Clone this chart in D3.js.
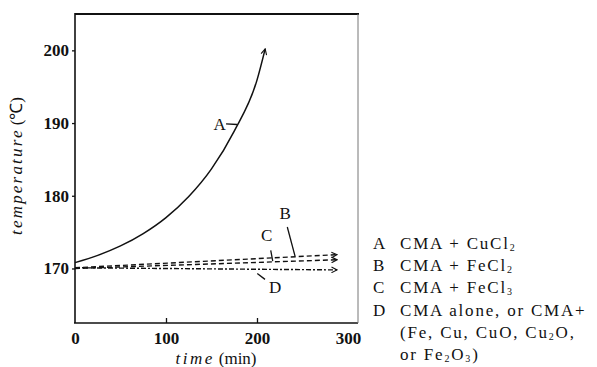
<!DOCTYPE html>
<html>
<head>
<meta charset="utf-8">
<style>
  body { margin: 0; background: #fff; }
  svg { display: block; }
  text { font-family: "Liberation Serif", "Times New Roman", Tinos, serif; fill: #111; }
</style>
</head>
<body>
<div id="chart"></div>
<script src="https://cdn.jsdelivr.net/npm/d3@7/dist/d3.min.js"></script>
<script>
// curve A (CMA + CuCl2), time in min, temperature in deg C
var timeA = [0, 25, 50, 75, 100, 125, 150, 175, 200, 209];
var tempA = [170.8, 171.8, 173.1, 174.8, 177.0, 179.9, 183.7, 188.9, 195.9, 200.2];
// B, C, D are near-straight dashed lines
var timeBCD = [0, 288];
var tempB = [170.1, 171.9];
var tempC = [170.0, 171.2];
var tempD = [170.1, 169.8];

var xTicks = [0, 100, 200, 300];
var yTicks = [170, 180, 190, 200];

// curve labels: [name, label time, label temp, leader from (t,T), leader to (t,T)]
var curveLabels = [
  ["A", 159, 189.9, [166, 189.9], [178, 189.8]],
  ["B", 231, 177.6, [233.3, 175.7], [241.8, 171.7]],
  ["C", 210.5, 174.6, [215.1, 172.5], [217.3, 171.0]],
  ["D", 220, 167.5, [208.8, 168.5], [200.3, 169.3]]
];

var legendKeys = ["A", "B", "C", "D", "", ""];
var legendTexts = ["CMA + CuCl_2", "CMA + FeCl_2", "CMA + FeCl_3",
                   "CMA alone, or CMA+", "(Fe, Cu, CuO, Cu_2O,", "or Fe_2O_3)"];

var W = 597, H = 367;
var serif = '"Liberation Serif", "Times New Roman", Tinos, serif';
var svg = d3.select('#chart').append('svg')
  .attr('width', W).attr('height', H);

var x = d3.scaleLinear().domain([0, 311]).range([75, 358]);
var y = d3.scaleLinear().domain([162.5, 205]).range([323, 14]);

// arrow markers
var defs = svg.append('defs');
defs.append('marker')
  .attr('id', 'arr')
  .attr('viewBox', '0 0 10 10')
  .attr('refX', 9).attr('refY', 5)
  .attr('markerWidth', 7).attr('markerHeight', 7)
  .attr('markerUnits', 'userSpaceOnUse')
  .attr('orient', 'auto')
  .append('path')
  .attr('d', 'M1,1 L9,5 L1,9')
  .attr('fill', 'none').attr('stroke', '#111').attr('stroke-width', 1.6);

// frame
var g = svg.append('g');
g.append('line').attr('x1', 75).attr('x2', 359).attr('y1', 14).attr('y2', 14)
  .attr('stroke', '#111').attr('stroke-width', 2);
g.append('line').attr('x1', 75).attr('x2', 75).attr('y1', 13).attr('y2', 323)
  .attr('stroke', '#111').attr('stroke-width', 1.6);
g.append('line').attr('x1', 74).attr('x2', 358).attr('y1', 323).attr('y2', 323)
  .attr('stroke', '#111').attr('stroke-width', 1.6);
g.append('line').attr('x1', 358).attr('x2', 358).attr('y1', 14).attr('y2', 323)
  .attr('stroke', '#777').attr('stroke-width', 1);

// axes
var xAxis = d3.axisBottom(x).tickValues(xTicks).tickSize(-5).tickPadding(9);
var yAxis = d3.axisLeft(y).tickValues(yTicks).tickSize(3).tickPadding(3);

var gx = svg.append('g').attr('transform', 'translate(0,323)').call(xAxis);
var gy = svg.append('g').attr('transform', 'translate(75,0)').call(yAxis);
[gx, gy].forEach(function(a) {
  a.attr('font-family', null);
  a.select('.domain').remove();
  a.selectAll('line').attr('stroke', '#111').attr('stroke-width', 1.3);
  a.selectAll('text')
    .style('font-family', serif)
    .style('font-size', '17px')
    .style('font-weight', 'bold')
    .attr('fill', '#111');
});
gx.selectAll('.tick').filter(function(d) { return d === 0 || d === 300; })
  .select('line').remove();

// axis titles
svg.append('text')
  .attr('x', 216).attr('y', 364)
  .attr('text-anchor', 'middle')
  .style('font-size', '17px')
  .call(function(t) {
    t.append('tspan').style('font-style', 'italic').style('letter-spacing', '2.5px').text('time');
    t.append('tspan').attr('dx', 4).text('(min)');
  });

svg.append('text')
  .attr('transform', 'translate(22,166) rotate(-90)')
  .attr('text-anchor', 'middle')
  .style('font-size', '17px')
  .call(function(t) {
    t.append('tspan').style('font-style', 'italic').style('letter-spacing', '2.2px').text('temperature');
    t.append('tspan').attr('dx', 3).text('(℃)');
  });

// lines
var line = d3.line()
  .x(function(d) { return x(d[0]); })
  .y(function(d) { return y(d[1]); });

svg.append('path')
  .datum(d3.zip(timeA, tempA))
  .attr('d', line.curve(d3.curveMonotoneX))
  .attr('fill', 'none').attr('stroke', '#111').attr('stroke-width', 1.5)
  .attr('marker-end', 'url(#arr)');

var dashed = [[tempB, '5,3'], [tempC, '5,3'], [tempD, '5,2,2,2']];
dashed.forEach(function(s) {
  svg.append('path')
    .datum(d3.zip(timeBCD, s[0]))
    .attr('d', line.curve(d3.curveLinear))
    .attr('fill', 'none').attr('stroke', '#111').attr('stroke-width', 1.4)
    .attr('stroke-dasharray', s[1])
    .attr('marker-end', 'url(#arr)');
});

// curve labels with leader lines
curveLabels.forEach(function(c) {
  svg.append('text')
    .attr('x', x(c[1])).attr('y', y(c[2]))
    .attr('dy', '0.35em')
    .attr('text-anchor', 'middle')
    .style('font-size', '17px')
    .text(c[0]);
  svg.append('line')
    .attr('x1', x(c[3][0])).attr('y1', y(c[3][1]))
    .attr('x2', x(c[4][0])).attr('y2', y(c[4][1]))
    .attr('stroke', '#111').attr('stroke-width', 1.3);
});

// legend
var lg = svg.append('g');
legendTexts.forEach(function(s, i) {
  var by = 249 + i * 22.2;
  if (legendKeys[i]) {
    lg.append('text').attr('x', 373).attr('y', by)
      .style('font-size', '17px').text(legendKeys[i]);
  }
  var t = lg.append('text').attr('x', 400).attr('y', by)
    .style('font-size', '17px').style('letter-spacing', '1.8px');
  s.split(/_(\d)/).forEach(function(part, j) {
    if (j % 2 === 1) {
      t.append('tspan').attr('dy', 2).style('font-size', '10px').text(part);
    } else if (part) {
      t.append('tspan').attr('dy', j > 0 ? -2 : 0).text(part);
    }
  });
});
</script>
</body>
</html>
